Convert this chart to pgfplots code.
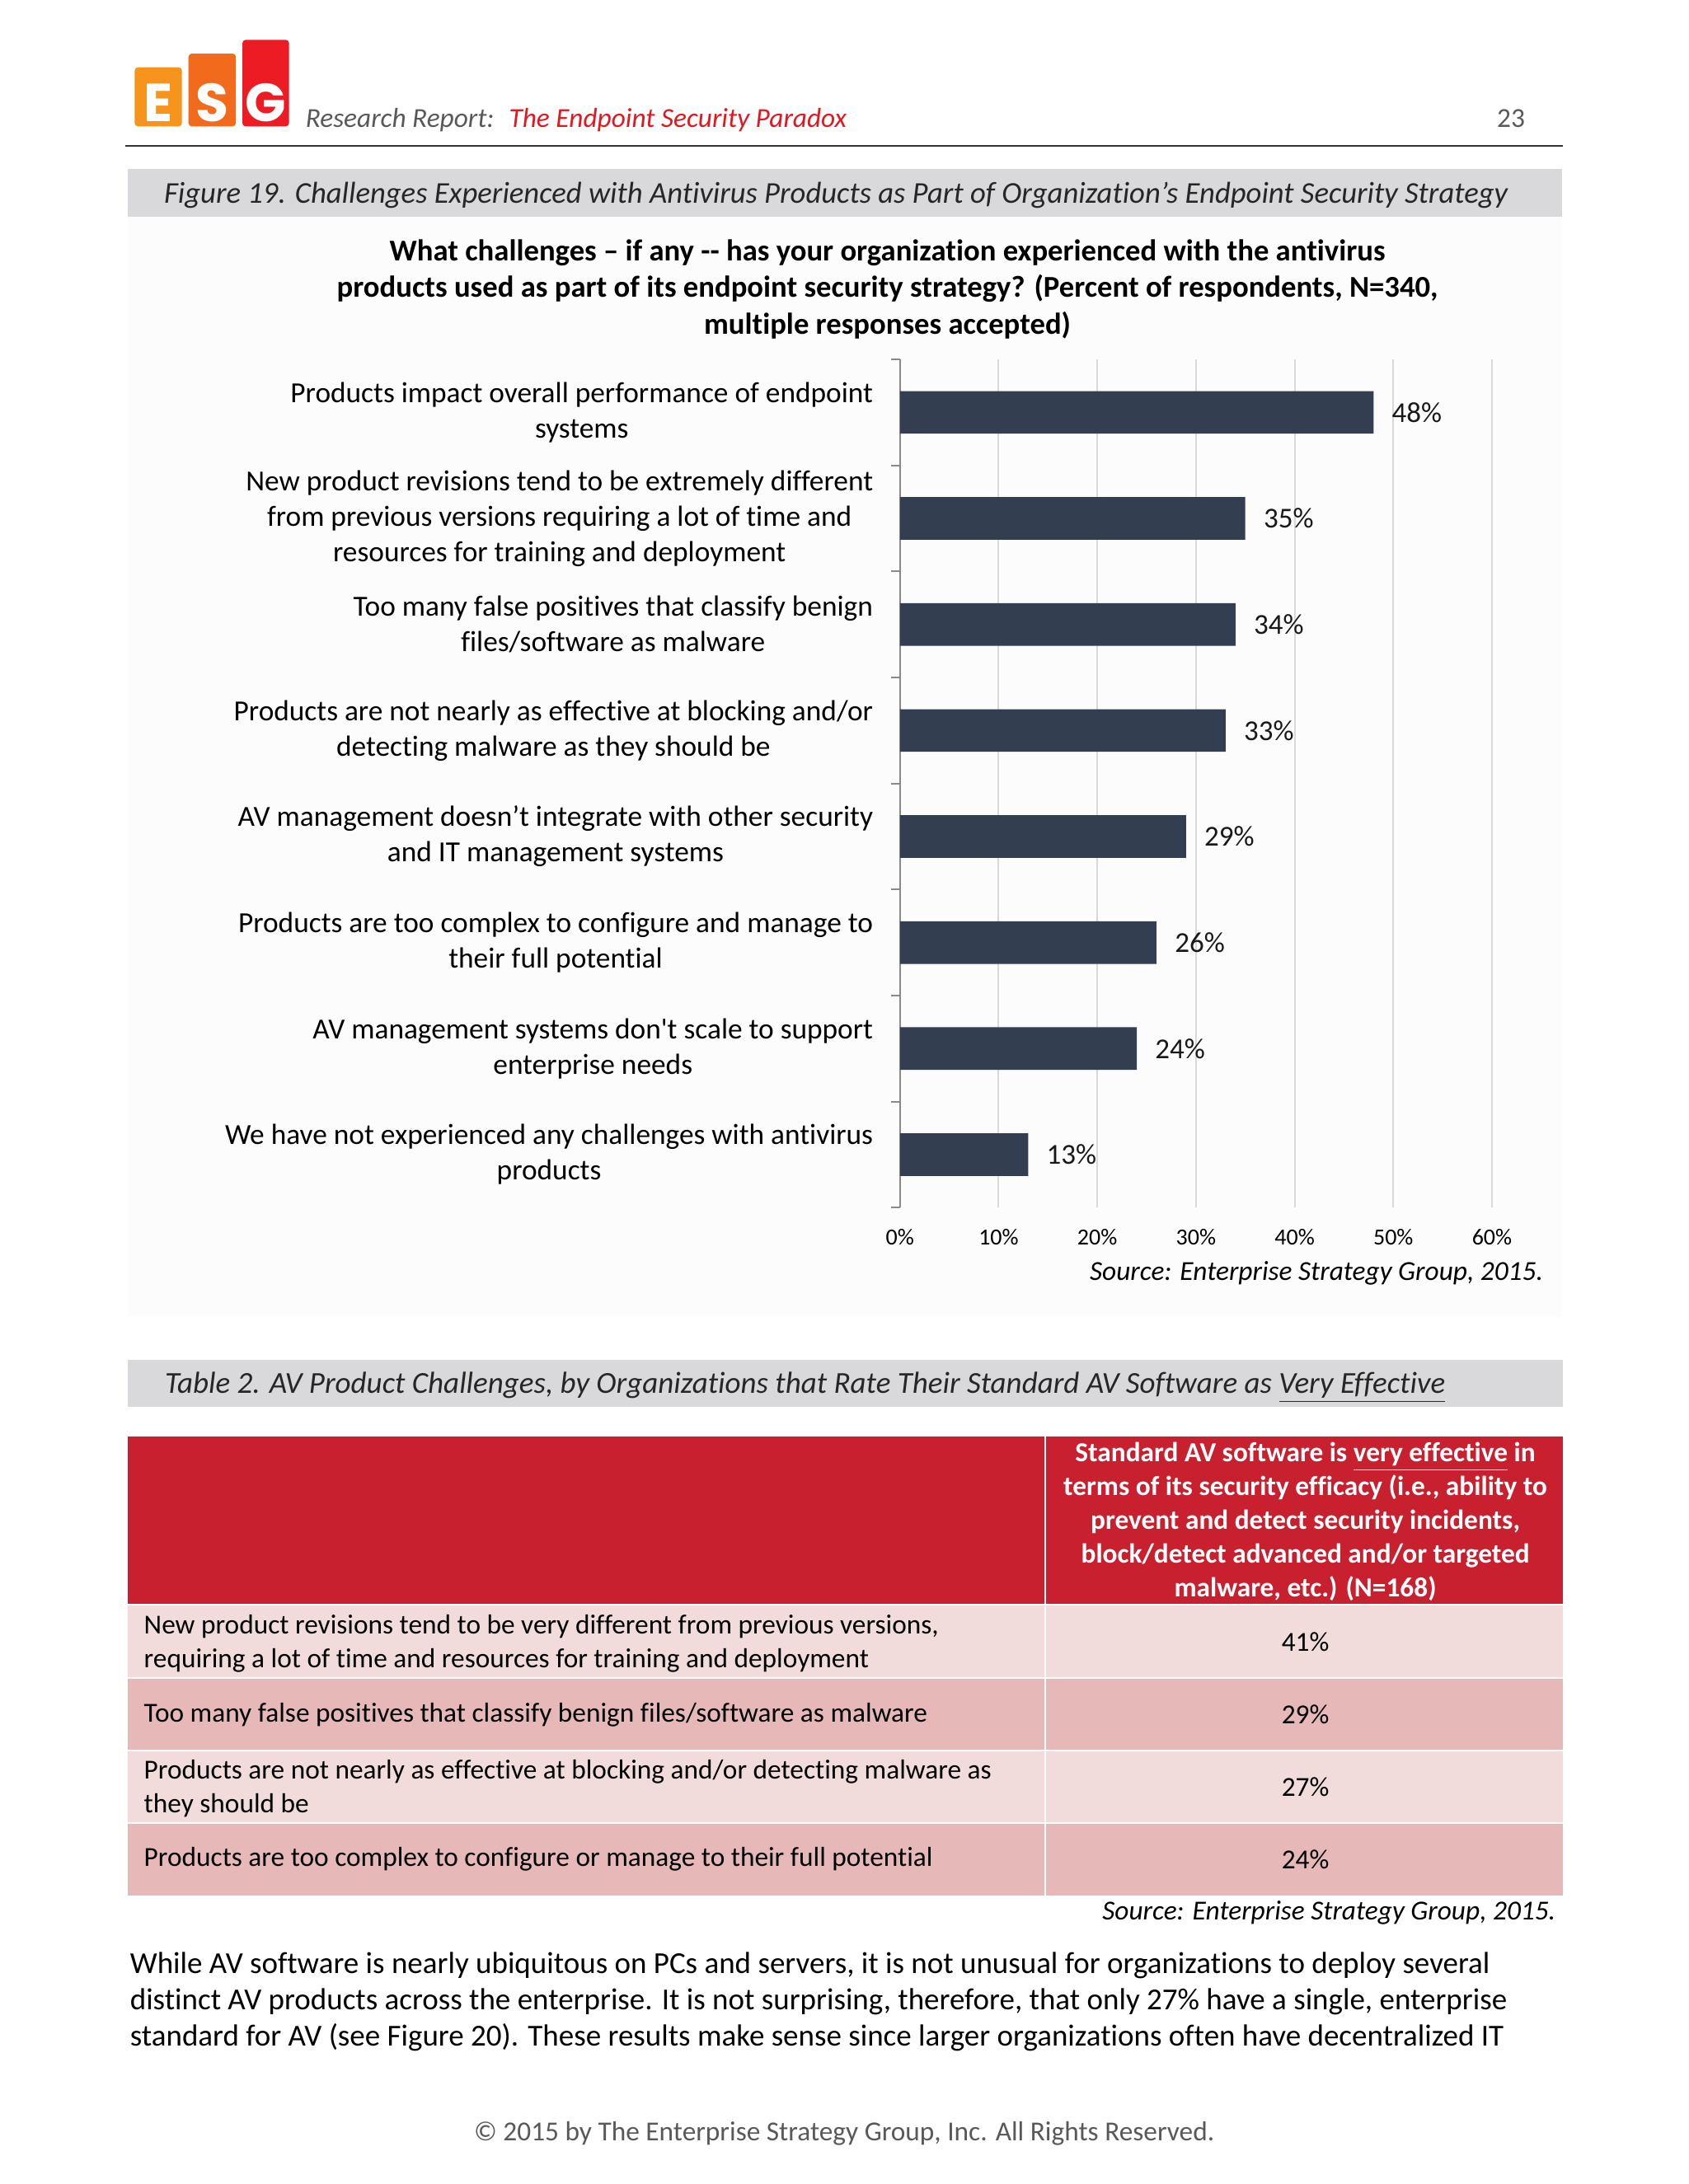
\documentclass[border=0pt]{standalone}
\usepackage{pgfplots}
\pgfplotsset{compat=1.18}
\usepackage{fontspec}
\setmainfont{Carlito}[Ligatures={TeX,NoCommon}]
\newfontfamily\logofont{Poppins}

\definecolor{barcol}{HTML}{333F50}
\definecolor{gridcol}{HTML}{D9D9D9}
\definecolor{axiscol}{HTML}{898989}
\definecolor{band}{HTML}{D9D9DB}
\definecolor{esgred}{HTML}{E3171F}
\definecolor{hdrgray}{HTML}{595959}
\definecolor{logoE}{HTML}{F7941D}
\definecolor{logoS}{HTML}{F26B1D}
\definecolor{logoG}{HTML}{ED1C24}
\definecolor{tred}{HTML}{C8202F}
\definecolor{rowlight}{HTML}{F2DCDB}
\definecolor{rowdark}{HTML}{E6B8B7}

\newcommand\fs[2]{\fontsize{#1}{#2}\selectfont}

\begin{document}
\begin{tikzpicture}
% page drawn in pixel units of a 1212x1568 page, y downwards
\begin{scope}[x=0.50694pt,y=-0.50694pt]
\path[use as bounding box, fill=white] (0,0) rectangle (1212,1568);
\fill[black!1.2] (91.7,155.4) rectangle (1121,945);

% logo
\fill[logoE, rounded corners=1.2pt] (96.7,48.3) rectangle (130.6,90.7);
\fill[logoS, rounded corners=1.2pt] (135.3,38.5) rectangle (169.3,90.7);
\fill[logoG, rounded corners=1.2pt] (174,28.6) rectangle (207.5,90.7);
\node[text=white, inner sep=0, font=\logofont\bfseries\fs{19.5}{20}] at (113.6,73.5) {E};
\node[text=white, inner sep=0, font=\logofont\bfseries\fs{19.5}{20}] at (152.3,73.5) {S};
\node[text=white, inner sep=0, font=\logofont\bfseries\fs{19.5}{20}] at (190.8,73.5) {G};

% header
\node[anchor=base west, inner sep=0, text=hdrgray, font=\itshape\fs{10}{12}] at (219,91.7) {Research Report:};
\node[anchor=base west, inner sep=0, text=esgred, font=\itshape\fs{10}{12}] at (365,91.7) {The Endpoint Security Paradox};
\node[anchor=base east, inner sep=0, text=hdrgray, font=\fs{10}{12}] at (1095,91.7) {23};
\draw[line width=0.6pt, black!80] (90,104.5) -- (1122,104.5);

% figure caption
\fill[band] (91.7,121.3) rectangle (1121,155.4);
\node[anchor=base west, inner sep=0, text=black!85, font=\itshape\fs{11}{13}] at (117.4,146)
  {Figure 19. Challenges Experienced with Antivirus Products as Part of Organization’s Endpoint Security Strategy};

% chart title
\node[align=center, inner sep=0, font=\bfseries\fs{11}{13.4}] at (637,207.5)
  {What challenges – if any -{}- has your organization experienced with the antivirus\\
   products used as part of its endpoint security strategy? (Percent of respondents, N=340,\\
   multiple responses accepted)};

\node[anchor=east, inner sep=0, font=\itshape\fs{10}{12}] at (1108,914) {Source: Enterprise Strategy Group, 2015.};

% table caption
\fill[band] (92,976) rectangle (1122,1010);
\node[anchor=base west, inner sep=0, text=black!85, font=\itshape\fs{11.1}{13}] at (118,1000)
  {Table 2. AV Product Challenges, by Organizations that Rate Their Standard AV Software as \underline{Very Effective}};

% table
\fill[tred] (92,1031.5) rectangle (1122,1151.6);
\fill[rowlight] (92,1152.6) rectangle (1122,1204);
\fill[rowdark] (92,1205) rectangle (1122,1256.2);
\fill[rowlight] (92,1257.2) rectangle (1122,1308.4);
\fill[rowdark] (92,1309.4) rectangle (1122,1360.6);
\draw[white, line width=0.6pt] (750.4,1031.5) -- (750.4,1360.6);

\node[align=center, inner sep=0, text=white, font=\bfseries\fs{10}{12.3}] at (937,1092.5)
  {Standard AV software is \underline{very effective} in\\
   terms of its security efficacy (i.e., ability to\\
   prevent and detect security incidents,\\
   block/detect advanced and/or targeted\\
   malware, etc.) (N=168)};

\node[anchor=west, align=left, inner sep=0, font=\fs{10}{12.2}] at (103,1180)
  {New product revisions tend to be very different from previous versions,\\
   requiring a lot of time and resources for training and deployment};
\node[anchor=west, align=left, inner sep=0, font=\fs{10}{12.2}] at (103,1231)
  {Too many false positives that classify benign files/software as malware};
\node[anchor=west, align=left, inner sep=0, font=\fs{10}{12.2}] at (103,1284)
  {Products are not nearly as effective at blocking and/or detecting malware as\\
   they should be};
\node[anchor=west, align=left, inner sep=0, font=\fs{10}{12.2}] at (103,1335)
  {Products are too complex to configure or manage to their full potential};

\node[inner sep=0, font=\fs{10}{12}] at (937,1179) {41\%};
\node[inner sep=0, font=\fs{10}{12}] at (937,1231) {29\%};
\node[inner sep=0, font=\fs{10}{12}] at (937,1283) {27\%};
\node[inner sep=0, font=\fs{10}{12}] at (937,1335) {24\%};

\node[anchor=east, inner sep=0, font=\itshape\fs{10}{12}] at (1117,1373) {Source: Enterprise Strategy Group, 2015.};

% body text
\node[anchor=base west, inner sep=0, font=\fs{11.1}{13}] at (93,1417)
  {While AV software is nearly ubiquitous on PCs and servers, it is not unusual for organizations to deploy several};
\node[anchor=base west, inner sep=0, font=\fs{11.1}{13}] at (93,1443)
  {distinct AV products across the enterprise. It is not surprising, therefore, that only 27\% have a single, enterprise};
\node[anchor=base west, inner sep=0, font=\fs{11.1}{13}] at (93,1469)
  {standard for AV (see Figure 20). These results make sense since larger organizations often have decentralized IT};

% footer
\node[anchor=base, inner sep=0, text=hdrgray, font=\fs{10}{12}] at (606,1537)
  {© 2015 by The Enterprise Strategy Group, Inc. All Rights Reserved.};
\end{scope}

\begin{axis}[
    at={(327.48pt,-439.52pt)}, anchor=south west,
    scale only axis, width=215.45pt, height=308.73pt,
    clip=false,
    /pgf/number format/assume math mode=true,
    xbar, bar width=15.5pt, bar shift=0pt,
    xmin=0, xmax=60, ymin=-0.5, ymax=7.5, y dir=reverse,
    axis y line*=left, axis x line*=bottom,
    x axis line style={draw=none},
    y axis line style={draw=axiscol, line width=0.6pt},
    major tick length=0pt,
    xtick={0,10,20,30,40,50,60},
    xticklabels={0\%,10\%,20\%,30\%,40\%,50\%,60\%},
    xticklabel style={font=\fs{8.4}{9}, inner sep=0pt, yshift=-7.6pt},
    xmajorgrids, grid style={draw=gridcol, line width=0.6pt},
    ytick={0,1,2,3,4,5,6,7},
    yticklabels={
      {Products impact overall performance of endpoint\\systems},
      {New product revisions tend to be extremely different\\from previous versions requiring a lot of time and\\resources for training and deployment},
      {Too many false positives that classify benign\\files/software as malware},
      {Products are not nearly as effective at blocking and/or\\detecting malware as they should be},
      {AV management doesn’t integrate with other security\\and IT management systems},
      {Products are too complex to configure and manage to\\their full potential},
      {AV management systems don\textquotesingle t scale to support\\enterprise needs},
      {We have not experienced any challenges with antivirus\\products}},
    yticklabel style={font=\fs{10.6}{12.9}, align=center, anchor=east, inner sep=0pt, xshift=-9.6pt},
    extra y ticks={-0.5,0.5,1.5,2.5,3.5,4.5,5.5,6.5,7.5},
    extra y tick labels={},
    extra y tick style={major tick length=3.2pt, tick align=outside, tick style={draw=axiscol, line width=0.6pt}},
    point meta=x,
    nodes near coords={\pgfmathprintnumber{\pgfplotspointmeta}\%},
    nodes near coords style={font=\fs{10.5}{12}, text=black!90, anchor=west, inner sep=0pt, xshift=6.5pt},
]
\addplot[fill=barcol, draw=none] coordinates {
  (48,0) (35,1) (34,2) (33,3) (29,4) (26,5) (24,6) (13,7)
};
\end{axis}
\end{tikzpicture}
\end{document}
